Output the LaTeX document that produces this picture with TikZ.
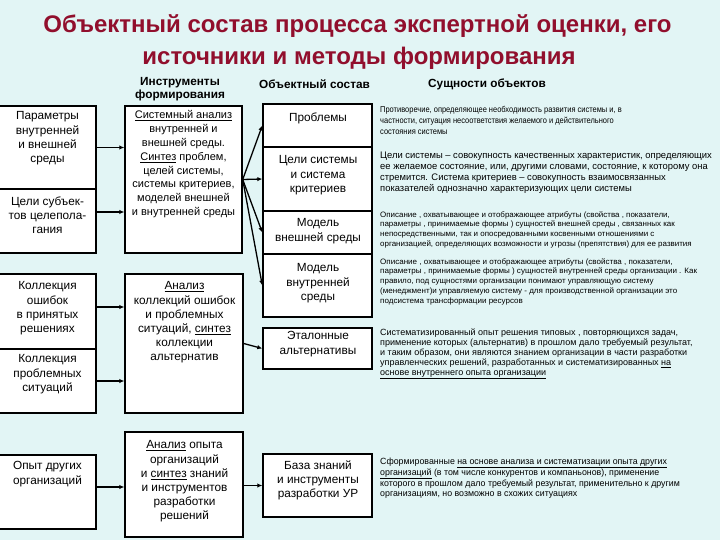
\documentclass[tikz,border=0pt]{standalone}
\usepackage{fontspec}
\setmainfont{Liberation Sans}
\usepackage{graphicx}
\usetikzlibrary{arrows.meta}
\definecolor{bg}{RGB}{226,245,245}
\definecolor{ttl}{RGB}{145,15,45}
\newcommand{\rpara}[4]{\scalebox{#1}[1]{\fontsize{#2}{#3}\selectfont\begin{tabular}{@{}l@{}}#4\end{tabular}}}
\begin{document}
\begin{tikzpicture}[x=1pt,y=-1pt,
  box/.style={draw, line width=1.4pt, fill=white, inner sep=0pt},
  btext/.style={align=center, inner sep=0pt, anchor=north, font=\fontsize{11.8}{14.2}\selectfont},
  mtext/.style={btext, font=\fontsize{11}{13.8}\selectfont},
  ntext/.style={btext, font=\fontsize{11.8}{14.2}\selectfont},
  head/.style={align=center, inner sep=0pt, font=\bfseries\fontsize{11.8}{13}\selectfont},
  ttext/.style={anchor=base, inner sep=0pt, text=ttl, font=\bfseries\fontsize{24}{30}\selectfont},
  rtext/.style={anchor=north west, inner sep=0pt},
  arr/.style={line width=1.3pt, -{Latex[length=5pt,width=4.5pt]}}]
\fill[bg] (0,0) rectangle (720,540);
\useasboundingbox (0,0) rectangle (720,540);
% title
\node[ttext] (title1) at (357.5,33) {Объектный состав процесса экспертной оценки, его};
\node[ttext] (title2) at (359,65) {источники и методы формирования};
% headers
\node[head] (h1) at (180,89.5) {Инструменты\\формирования};
\node[head] (h2) at (314.5,84) {Объектный состав};
\node[head] (h3) at (487,84) {Сущности объектов};
% left boxes
\node[box, minimum width=98pt, minimum height=83pt] (l1) at (47,147.5) {};
\node[box, minimum width=98pt, minimum height=64pt] (l2) at (47,221) {};
\node[box, minimum width=98pt, minimum height=75pt] (l3) at (47,311.5) {};
\node[box, minimum width=98pt, minimum height=64pt] (l4) at (47,381) {};
\node[box, minimum width=98pt, minimum height=74pt] (l5) at (47,492) {};
% middle boxes
\node[box, minimum width=117pt, minimum height=147pt] (m1) at (183.5,179.5) {};
\node[box, minimum width=118pt, minimum height=139pt] (m2) at (184,343.5) {};
\node[box, minimum width=118pt, minimum height=105pt] (m3) at (184,484.5) {};
% object boxes
\node[box, minimum width=109pt, minimum height=43pt] (o1) at (317.5,125.5) {};
\node[box, minimum width=109pt, minimum height=64pt] (o2) at (317.5,179) {};
\node[box, minimum width=109pt, minimum height=43pt] (o3) at (317.5,232.5) {};
\node[box, minimum width=109pt, minimum height=63pt] (o4) at (317.5,285.5) {};
\node[box, minimum width=109pt, minimum height=41pt] (o5) at (317.5,348.5) {};
\node[box, minimum width=109pt, minimum height=63pt] (o6) at (317.5,485.5) {};
% box texts
\node[btext] (tl1) at (47.5,111.5) {Параметры\\внутренней\\и внешней\\среды};
\node[btext] (tl2) at (47.5,196.5) {Цели субъек-\\тов целепола-\\гания};
\node[btext] (tl3) at (47.5,281.5) {Коллекция\\ошибок\\в принятых\\решениях};
\node[btext] (tl4) at (47.5,354.5) {Коллекция\\проблемных\\ситуаций};
\node[btext] (tl5) at (47.5,461.5) {Опыт других\\организаций};
\node[mtext] (tm1) at (183.5,110.5) {\underline{Системный анализ}\\внутренней и\\внешней среды.\\\underline{Синтез} проблем,\\целей системы,\\системы критериев,\\моделей внешней\\и внутренней среды};
\node[ntext] (tm2) at (184.5,281.5) {\underline{Анализ}\\коллекций ошибок\\и  проблемных\\ситуаций, \underline{синтез}\\коллекции\\альтернатив};
\node[ntext] (tm3) at (184.5,440.5) {\underline{Анализ} опыта\\организаций\\и \underline{синтез} знаний\\и инструментов\\разработки\\решений};
\node[btext] (to1) at (318,112.5) {Проблемы};
\node[btext] (to2) at (318,155.5) {Цели системы\\и система\\критериев};
\node[btext] (to3) at (318,218.5) {Модель\\внешней среды};
\node[btext] (to4) at (318,263.5) {Модель\\внутренней\\среды};
\node[btext] (to5) at (318,331.5) {Эталонные\\альтернативы};
\node[btext] (to6) at (318,460.5) {База знаний\\и инструменты\\разработки УР};
% arrows
\draw[arr] (l1.east) -- (l1.east -| m1.west);
\draw[arr] ([yshift=9pt]l2.east) coordinate (a2) -- (a2 -| m1.west);
\draw[arr] ([yshift=4.5pt]l3.east) coordinate (a3) -- (a3 -| m2.west);
\draw[arr] (l4.east) -- (l4.east -| m2.west);
\draw[arr] ([yshift=5pt]l5.east) coordinate (a5) -- (a5 -| m3.west);
\draw[arr] (m3.east |- o6.west) -- (o6.west);
\draw[arr] (m1.east) -- (o1.west);
\draw[arr] (m1.east) -- (o2.west);
\draw[arr] (m1.east) -- (o3.west);
\draw[arr] (m1.east) -- (o4.west);
\draw[arr] (m2.east) -- (o5.west);
% right column texts
\node[rtext] (p1) at (380,104.5) {\rpara{0.88}{8.5}{11}{Противоречие, определяющее необходимость развития системы и, в\\частности, ситуация несоответствия желаемого и действительного\\состояния системы}};
\node[rtext] (p2) at (380,150.5) {\rpara{0.99}{9.5}{11}{Цели системы – совокупность качественных характеристик, определяющих\\ее желаемое состояние, или, другими словами, состояние, к которому она\\стремится. Система критериев – совокупность взаимосвязанных\\показателей однозначно характеризующих цели системы}};
\node[rtext] (p3) at (380,210.2) {\rpara{1.02}{7.8}{9.7}{Описание , охватывающее и отображающее атрибуты (свойства , показатели,\\параметры , принимаемые формы ) сущностей внешней среды , связанных как\\непосредственными, так и опосредованными косвенными отношениями с\\организацией, определяющих возможности и угрозы (препятствия) для ее развития}};
\node[rtext] (p4) at (380,257) {\rpara{1.03}{7.8}{9.8}{Описание , охватывающее и отображающее атрибуты (свойства , показатели,\\параметры , принимаемые формы ) сущностей внутренней среды организации . Как\\правило, под сущностями организации понимают управляющую систему\\(менеджмент)и управляемую систему - для производственной организации это\\подсистема трансформации ресурсов}};
\node[rtext] (p5) at (380,328.2) {\rpara{1}{9}{10}{Систематизированный опыт решения типовых , повторяющихся задач,\\применение которых (альтернатив) в прошлом дало требуемый результат,\\и таким образом, они являются знанием организации в части разработки\\управленческих решений, разработанных и систематизированных \underline{на}\\\underline{основе внутреннего опыта организации}}};
\node[rtext] (p6) at (380,457.2) {\rpara{0.98}{9}{10}{Сформированные \underline{на основе анализа и систематизации опыта других}\\\underline{организаций} (в том числе конкурентов и компаньонов), применение\\которого в прошлом дало требуемый результат, применительно к другим\\организациям, но возможно в схожих ситуациях}};
\end{tikzpicture}
\end{document}
